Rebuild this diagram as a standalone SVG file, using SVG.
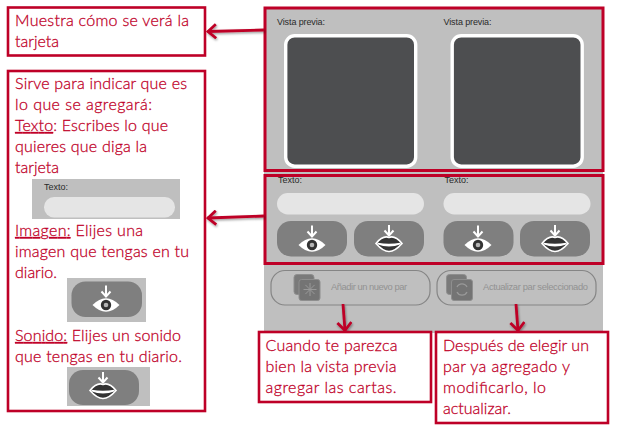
<svg xmlns="http://www.w3.org/2000/svg" width="620" height="429" viewBox="0 0 620 429">
<style>
.note{fill:#fff;stroke:#be0027;stroke-width:2.6}
.t{font-family:"Lato","Carlito","Liberation Sans",sans-serif;font-size:16px;font-weight:300;fill:#c00028;stroke:#c00028;stroke-width:0.28}
.u{text-decoration:underline}
.ui{font-family:"Liberation Sans",Arial,sans-serif;font-size:9px;fill:#2a2a2a}
.act{font-family:"Liberation Sans",Arial,sans-serif;font-size:9.400px;fill:#929292}
.panel{fill:#bfbfbf}
.frame{fill:none;stroke:#be0027;stroke-width:3}
.input{fill:#e5e5e5}
.btn{fill:#7f7f7f}
.actbtn{fill:none;stroke:#858585;stroke-width:1.2}
.conn{fill:none;stroke:#be0027;stroke-width:2.8}
</style>
<defs>
<filter id="sh" filterUnits="userSpaceOnUse" x="190" y="0" width="360" height="350"><feDropShadow dx="0.8" dy="1.4" stdDeviation="0.8" flood-color="#000" flood-opacity="0.4"/></filter>
<marker id="arrow" viewBox="0 0 14 16" refX="12.500" refY="8" markerWidth="14" markerHeight="16" markerUnits="userSpaceOnUse" orient="auto"><path d="M4 1L12 8L4 15" fill="none" stroke="#be0027" stroke-width="2.8"/></marker>
<g id="preview"><rect x="1.700" y="1.700" width="130" height="130.500" rx="9" fill="#4d4e50" stroke="#fff" stroke-width="3.400"/></g>
<g id="eye">
<path d="M0 -19.500V-9M-4.500 -13.500L0 -8.500L4.500 -13.500" fill="none" stroke="#fff" stroke-width="2"/>
<path d="M-13.500 0Q0 -13.500 13.500 0Q0 13.500 -13.500 0Z" fill="#fff"/>
<circle r="5.200" fill="#333"/><circle r="2.300" fill="#b5b5b5"/>
</g>
<g id="lips">
<path d="M0 -19V-9.500M-4.500 -13.500L0 -8.500L4.500 -13.500" fill="none" stroke="#fff" stroke-width="2"/>
<path d="M-13 -0.500Q-6 -9 0 -6.500Q6 -9 13 -0.500Q6 7.500 0 7.500Q-6 7.500 -13 -0.500Z" fill="#333" stroke="#fff" stroke-width="1.600"/>
<path d="M-11.500 -0.500Q0 1.500 11.500 -0.500Q0 4 -11.500 -0.500Z" fill="#fff" stroke="#fff" stroke-width="1.400"/>
</g>
<g id="stack" fill="#7a7a7a" stroke="#8e8e8e"><rect x="0.500" y="0.500" width="20" height="20" rx="3"/><rect x="5.500" y="5.500" width="21" height="21" rx="2.500" fill="#747474"/></g>
</defs>

<g id="interface">
<rect class="panel" x="264" y="7" width="339" height="326"/>
</g>

<g id="preview-panel">
<text class="ui" x="277" y="25" textLength="48">Vista previa:</text>
<text class="ui" x="443.500" y="25" textLength="48">Vista previa:</text>
<use href="#preview" x="284" y="34"/>
<use href="#preview" x="450.500" y="34"/>
<rect class="frame" x="265" y="8" width="338" height="162.500"/>
</g>

<g id="input-panel">
<text class="ui" x="278" y="183">Texto:</text>
<text class="ui" x="444.500" y="183">Texto:</text>
<rect class="input" x="277" y="193" width="147" height="21.500" rx="10.700"/>
<rect class="input" x="443.500" y="193" width="147" height="21.500" rx="10.700"/>
<rect class="btn" x="277" y="221" width="70" height="35.500" rx="14"/>
<rect class="btn" x="354" y="221" width="70" height="35.500" rx="14"/>
<rect class="btn" x="443.500" y="221" width="70" height="35.500" rx="14"/>
<rect class="btn" x="520" y="221" width="70" height="35.500" rx="14"/>
<use href="#eye" x="312" y="245"/>
<use href="#lips" x="389" y="244"/>
<use href="#eye" x="478" y="245"/>
<use href="#lips" x="555" y="244"/>
<rect class="frame" x="265" y="175.500" width="338" height="88"/>
</g>

<g id="add-button">
<rect class="actbtn" x="271" y="270.500" width="159" height="34.500" rx="14"/>
<use href="#stack" x="293.500" y="274"/>
<path d="M310 283V296M303.500 289.500H316.500M305.400 284.900L314.600 294.100M305.400 294.100L314.600 284.900" stroke="#999" stroke-width="1"/>
<text class="act" x="331" y="290" textLength="76">Añadir un nuevo par</text>
</g>

<g id="update-button">
<rect class="actbtn" x="437" y="270.500" width="159" height="34.500" rx="14"/>
<use href="#stack" x="446" y="274"/>
<path d="M457 287A5.500 5.500 0 0 1 467 287M467 292A5.500 5.500 0 0 1 457 292" fill="none" stroke="#999" stroke-width="1.300"/>
<text class="act" x="483" y="290" textLength="105">Actualizar par seleccionado</text>
</g>

<g id="connectors" filter="url(#sh)">
<path class="conn" marker-end="url(#arrow)" d="M264 30L207.500 31.500"/>
<path class="conn" marker-end="url(#arrow)" d="M264 216L207.500 218"/>
<path class="conn" marker-end="url(#arrow)" d="M343 304L345 331"/>
<path class="conn" marker-end="url(#arrow)" d="M516 304L518 331"/>
</g>

<g id="note-preview">
<rect class="note" x="8" y="7.500" width="197" height="48"/>
<text class="t" x="15" y="26" textLength="174">Muestra cómo se verá la</text>
<text class="t" x="15" y="47">tarjeta</text>
</g>

<g id="note-input">
<rect class="note" x="8" y="71" width="197" height="340"/>
<text class="t" x="15" y="89" textLength="172">Sirve para indicar que es</text>
<text class="t" x="15" y="110" textLength="137">lo que se agregará:</text>
<text class="t" x="15" y="131" textLength="153"><tspan class="u">Texto</tspan>: Escribes lo que</text>
<text class="t" x="15" y="152" textLength="132">quieres que diga la</text>
<text class="t" x="15" y="173">tarjeta</text>
<rect class="panel" x="32" y="179" width="148" height="40"/>
<text class="ui" x="44" y="190">Texto:</text>
<rect class="input" x="44" y="197" width="131" height="20.500" rx="10"/>
<text class="t" x="15" y="236" textLength="128"><tspan class="u">Imagen:</tspan> Elijes una</text>
<text class="t" x="15" y="257" textLength="174">imagen que tengas en tu</text>
<text class="t" x="15" y="278">diario.</text>
<rect class="panel" x="67" y="278" width="79" height="44"/>
<rect class="btn" x="71.500" y="281.500" width="70.500" height="35.500" rx="14"/>
<use href="#eye" x="106" y="305"/>
<text class="t" x="15" y="341" textLength="166"><tspan class="u">Sonido:</tspan> Elijes un sonido</text>
<text class="t" x="15" y="362" textLength="167">que tengas en tu diario.</text>
<rect class="panel" x="67" y="367" width="83" height="39"/>
<rect class="btn" x="69" y="370" width="70" height="35" rx="14"/>
<use href="#lips" x="103" y="391"/>
</g>

<g id="note-add">
<rect class="note" x="259" y="332" width="172" height="70"/>
<text class="t" x="265.500" y="351" textLength="132">Cuando te parezca</text>
<text class="t" x="265.500" y="372" textLength="131">bien la vista previa</text>
<text class="t" x="265.500" y="393" textLength="131">agregar las cartas.</text>
</g>

<g id="note-update">
<rect class="note" x="436" y="332" width="172" height="91"/>
<text class="t" x="443" y="351" textLength="146">Después de elegir un</text>
<text class="t" x="443" y="372" textLength="127">par ya agregado y</text>
<text class="t" x="443" y="393" textLength="103">modificarlo, lo</text>
<text class="t" x="443" y="414">actualizar.</text>
</g>
</svg>
